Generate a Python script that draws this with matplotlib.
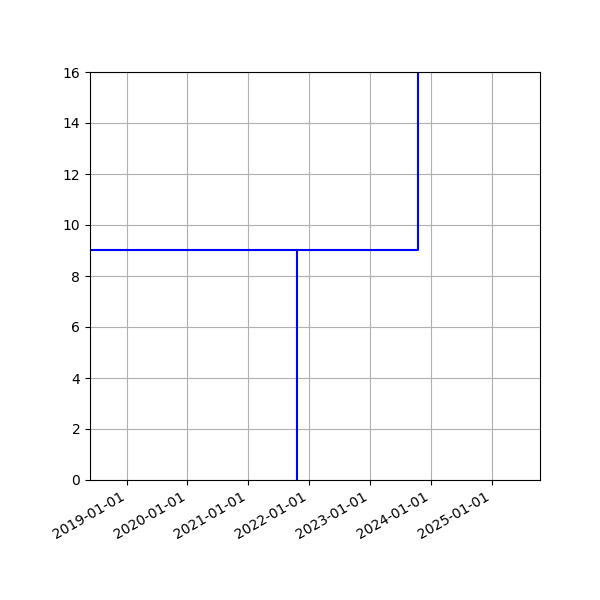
import matplotlib
matplotlib.use('Agg')
import matplotlib.pyplot as plt
import matplotlib.dates as mdates
import numpy as np

# horizontal run at 9, then a jump up
dates_a = np.array(['2018-05-26', '2023-10-17', '2023-10-17'], dtype='datetime64[D]')
values_a = [9, 9, 16]
# vertical drop from 9 to 0
dates_b = np.array(['2021-10-18', '2021-10-18'], dtype='datetime64[D]')
values_b = [9, 0]

fig, ax = plt.subplots(figsize=(6, 6), dpi=100)
ax.plot(dates_a, values_a, color='blue')
ax.plot(dates_b, values_b, color='blue')

ax.set_xlim(np.datetime64('2018-05-26'), np.datetime64('2025-10-18'))
ax.set_ylim(0, 16)
ax.xaxis.set_major_locator(mdates.YearLocator())
ax.xaxis.set_major_formatter(mdates.DateFormatter('%Y-%m-%d'))
ax.grid(True)
fig.autofmt_xdate()
fig.subplots_adjust(left=0.15, right=0.9, top=0.88, bottom=0.2)
fig.savefig('out.png')
